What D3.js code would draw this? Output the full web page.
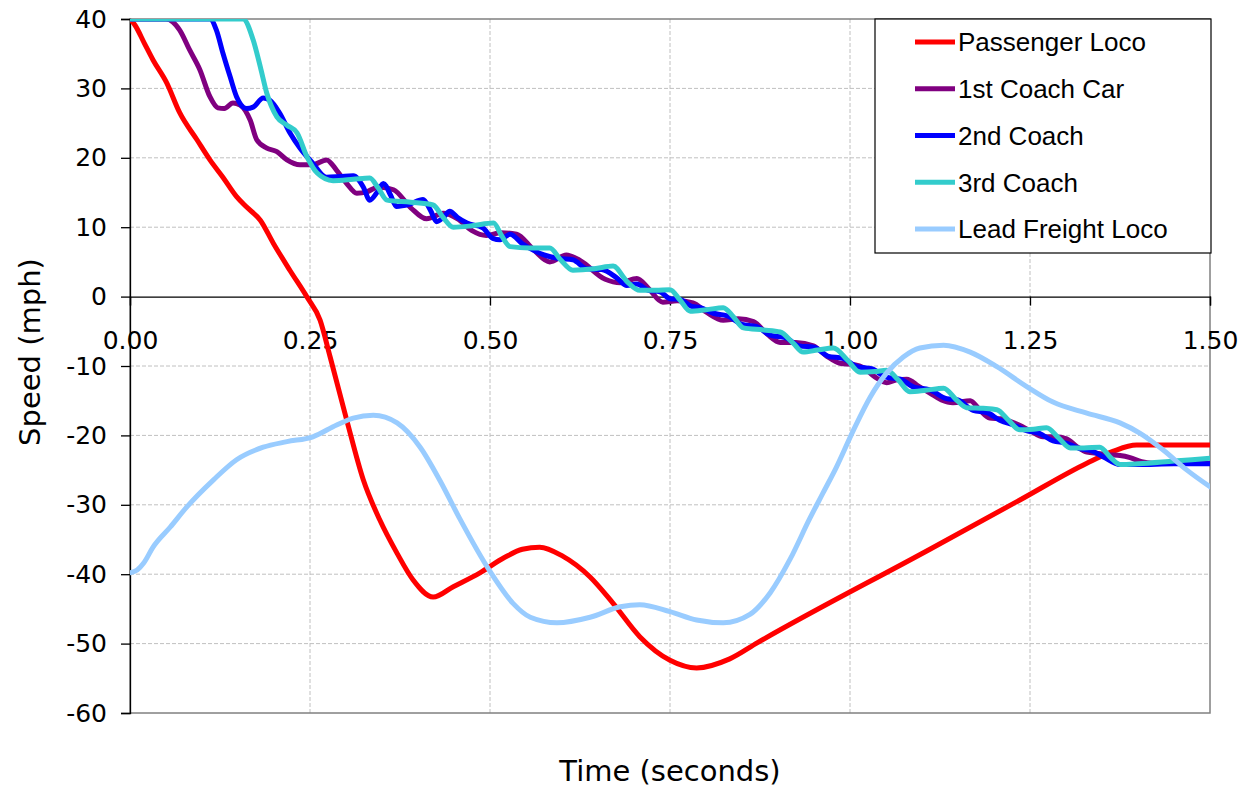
<!DOCTYPE html>
<html>
<head>
<meta charset="utf-8">
<script src="https://cdn.jsdelivr.net/npm/d3@7"></script>
<style>
  body { margin: 0; background: #fff; }
  text { fill: #000; }
</style>
</head>
<body>
<svg width="1249" height="790"></svg>
<script>
// [time (s), speed (mph)]
const passengerLoco = [[0,40],[0.007,39.1],[0.02,36.5],[0.032,34.1],[0.051,30.8],[0.069,26.5],[0.093,22.6],[0.111,19.7],
  [0.129,17.2],[0.148,14.4],[0.162,12.9],[0.181,11.0],[0.199,7.7],[0.222,3.8],[0.246,-0.1],[0.264,-3.4],[0.278,-8.7],
  [0.301,-17.8],[0.324,-26.4],[0.347,-32.2],[0.371,-37.0],[0.393,-40.8],[0.421,-43.3],[0.449,-41.8],[0.486,-39.8],
  [0.52,-37.6],[0.545,-36.4],[0.569,-36.1],[0.601,-37.4],[0.639,-40.4],[0.671,-44.2],[0.708,-49.0],[0.75,-52.4],
  [0.787,-53.5],[0.833,-52.2],[0.871,-49.9],[1.111,-36.4],[1.236,-29.3],[1.329,-24.0],[1.365,-22.3],[1.398,-21.4],[1.5,-21.4]];

const firstCoach = [[0,40],[0.05,40],[0.069,38.4],[0.083,35.5],[0.097,32.7],[0.111,28.8],[0.122,27.2],[0.131,27.1],
  [0.143,27.9],[0.153,27.6],[0.167,25.4],[0.176,22.6],[0.19,21.4],[0.204,20.9],[0.218,19.7],[0.236,19.0],[0.254,19.0],
  [0.273,19.7],[0.287,18.2],[0.301,16.3],[0.315,14.9],[0.329,15.1],[0.345,15.8],[0.366,15.4],[0.39,12.8],[0.412,11.2],
  [0.435,12.0],[0.455,11.2],[0.475,9.5],[0.495,8.8],[0.515,9.2],[0.537,9.0],[0.56,6.8],[0.583,5.0],[0.606,6.0],
  [0.625,5.2],[0.66,2.5],[0.681,2.0],[0.704,2.6],[0.72,1.2],[0.74,-0.8],[0.76,-0.6],[0.782,-0.9],[0.80,-2.2],
  [0.824,-3.4],[0.845,-3.2],[0.866,-3.6],[0.885,-5.4],[0.903,-6.6],[0.925,-6.6],[0.949,-7.1],[0.968,-8.6],[0.986,-9.6],
  [1.005,-9.8],[1.018,-10.2],[1.035,-11.6],[1.051,-12.4],[1.065,-12.0],[1.079,-11.9],[1.095,-12.9],[1.111,-13.9],
  [1.127,-14.9],[1.143,-15.3],[1.167,-15.0],[1.18,-16.3],[1.194,-17.5],[1.21,-17.6],[1.23,-18.3],[1.25,-19.3],
  [1.268,-20.2],[1.285,-20.2],[1.301,-20.5],[1.315,-21.6],[1.329,-22.4],[1.345,-22.6],[1.36,-22.8],[1.375,-22.9],
  [1.389,-23.2],[1.405,-23.8],[1.42,-24.0],[1.5,-24.0]];

const secondCoach = [[0,40],[0.111,40],[0.12,38.4],[0.129,35.1],[0.139,31.7],[0.148,28.8],[0.162,27.1],[0.171,27.3],
  [0.185,28.6],[0.194,28.3],[0.208,26.4],[0.222,23.6],[0.236,21.4],[0.254,19.2],[0.273,17.2],[0.292,17.3],[0.31,17.4],
  [0.324,15.8],[0.333,13.9],[0.343,15.0],[0.352,16.3],[0.362,14.6],[0.37,13.0],[0.388,13.3],[0.407,14.0],[0.417,12.5],
  [0.426,10.8],[0.436,11.5],[0.444,12.3],[0.455,11.4],[0.468,10.6],[0.49,9.9],[0.504,8.4],[0.514,8.2],[0.528,9.0],
  [0.545,7.6],[0.56,6.7],[0.575,6.0],[0.595,5.5],[0.615,5.3],[0.635,4.0],[0.655,3.9],[0.676,2.7],[0.69,1.6],[0.704,1.8],
  [0.72,0.9],[0.736,0.7],[0.75,-0.3],[0.764,-0.4],[0.78,-1.4],[0.792,-1.6],[0.81,-2.4],[0.83,-2.8],[0.85,-4.0],
  [0.87,-4.3],[0.89,-5.6],[0.91,-5.9],[0.93,-7.1],[0.95,-7.3],[0.97,-8.6],[0.99,-8.9],[1.01,-10.1],[1.03,-10.4],
  [1.05,-11.6],[1.07,-11.9],[1.09,-13.1],[1.11,-13.4],[1.134,-14.7],[1.15,-14.9],[1.171,-16.4],[1.19,-16.7],
  [1.208,-17.8],[1.227,-18.5],[1.245,-19.3],[1.263,-19.7],[1.282,-20.8],[1.30,-21.1],[1.319,-21.9],[1.335,-22.2],
  [1.352,-23.1],[1.375,-24.2],[1.40,-24.2],[1.45,-24.1],[1.5,-24.1]];

const thirdCoach = [[0,40],[0.157,40],[0.171,37.0],[0.181,33.1],[0.19,29.3],[0.204,25.9],[0.218,24.7],[0.232,23.6],
  [0.246,20.1],[0.26,17.8],[0.282,16.7],[0.31,16.9],[0.333,17.1],[0.345,15.6],[0.357,13.9],[0.39,13.6],[0.421,13.2],
  [0.435,11.4],[0.449,10.0],[0.475,10.2],[0.505,10.6],[0.516,8.8],[0.528,7.2],[0.555,7.0],[0.583,7.0],[0.598,5.3],
  [0.615,3.8],[0.645,4.0],[0.671,4.4],[0.69,2.2],[0.708,0.9],[0.73,0.9],[0.75,1.0],[0.764,-0.5],[0.778,-2.1],
  [0.80,-1.9],[0.824,-1.6],[0.838,-2.9],[0.852,-4.5],[0.88,-4.8],[0.903,-5.1],[0.921,-6.7],[0.935,-8.0],[0.955,-7.7],
  [0.977,-7.4],[0.996,-9.1],[1.014,-10.9],[1.035,-10.8],[1.051,-10.6],[1.067,-12.0],[1.083,-13.7],[1.105,-13.5],
  [1.13,-13.2],[1.148,-14.9],[1.162,-16.0],[1.185,-16.1],[1.204,-16.3],[1.22,-17.8],[1.236,-19.2],[1.255,-19.1],
  [1.273,-18.9],[1.29,-20.4],[1.306,-21.8],[1.325,-21.8],[1.347,-21.7],[1.362,-23.2],[1.375,-24.2],[1.40,-24.1],
  [1.45,-23.7],[1.5,-23.3]];

const leadFreight = [[0,-39.8],[0.01,-39.4],[0.019,-38.4],[0.032,-36.1],[0.056,-33.2],[0.079,-30.3],[0.116,-26.4],
  [0.148,-23.5],[0.185,-21.7],[0.218,-20.9],[0.254,-20.2],[0.287,-18.5],[0.31,-17.5],[0.338,-17.1],[0.371,-18.2],
  [0.403,-21.7],[0.431,-26.6],[0.458,-32.0],[0.5,-39.6],[0.532,-44.2],[0.556,-46.2],[0.593,-47.0],[0.639,-46.2],
  [0.681,-44.7],[0.708,-44.4],[0.75,-45.4],[0.787,-46.6],[0.824,-47.0],[0.861,-45.8],[0.889,-42.7],[0.917,-37.8],
  [0.944,-32.0],[0.962,-28.4],[0.981,-24.6],[1.005,-19.2],[1.028,-14.5],[1.051,-11.0],[1.074,-8.7],[1.097,-7.4],
  [1.13,-7.0],[1.167,-8.0],[1.204,-10.1],[1.246,-13.0],[1.282,-15.2],[1.329,-16.8],[1.375,-18.2],[1.403,-19.7],
  [1.435,-22.1],[1.468,-25.0],[1.5,-27.4]];

const seriesNames = ["Passenger Loco", "1st Coach Car", "2nd Coach", "3rd Coach", "Lead Freight Loco"];
const seriesColors = ["#FF0000", "#800080", "#0000FF", "#33CCCC", "#99CCFF"];
const xTicks = [0, 0.25, 0.5, 0.75, 1.0, 1.25, 1.5];
const yTicks = [40, 30, 20, 10, 0, -10, -20, -30, -40, -50, -60];

const seriesData = [passengerLoco, firstCoach, secondCoach, thirdCoach, leadFreight];

const svg = d3.select('svg');
const margin = {left: 130, right: 39, top: 19, bottom: 77};
const width = +svg.attr('width') - margin.left - margin.right;
const height = +svg.attr('height') - margin.top - margin.bottom;

const tickFont = "'DejaVu Sans', Tahoma, sans-serif";

const xScale = d3.scaleLinear().domain([0, 1.5]).range([0, width]);
const yScale = d3.scaleLinear().domain([-60, 40]).range([height, 0]);

const g = svg.append('g').attr('transform', `translate(${margin.left},${margin.top})`);

// gridlines (dashed)
g.append('g').selectAll('line')
  .data(yTicks.filter(d => d !== 40 && d !== -60 && d !== 0))
  .enter().append('line')
  .attr('x1', 0).attr('x2', width)
  .attr('y1', d => yScale(d)).attr('y2', d => yScale(d))
  .attr('stroke', '#c0c0c0').attr('stroke-dasharray', '4,2').attr('stroke-width', 1);

g.append('g').selectAll('line')
  .data(xTicks.filter(d => d > 0 && d < 1.5))
  .enter().append('line')
  .attr('x1', d => xScale(d)).attr('x2', d => xScale(d))
  .attr('y1', 0).attr('y2', height)
  .attr('stroke', '#c0c0c0').attr('stroke-dasharray', '4,2').attr('stroke-width', 1);

// plot border
g.append('rect')
  .attr('x', 0).attr('y', 0).attr('width', width).attr('height', height)
  .attr('fill', 'none').attr('stroke', '#808080').attr('stroke-width', 1.5);

// x axis sits at zero
const xAxis = g.append('g')
  .attr('transform', `translate(0,${yScale(0)})`)
  .call(d3.axisBottom(xScale).tickValues(xTicks).tickSize(9).tickFormat(d3.format('.2f')));
xAxis.select('.domain').attr('stroke', '#000').attr('stroke-width', 1.3);
xAxis.selectAll('.tick line').attr('stroke', '#000').attr('stroke-width', 1.3);
xAxis.selectAll('.tick text')
  .attr('y', 35)
  .style('font-family', tickFont).style('font-size', '25px');

// y axis (plain hyphen for negatives)
const yAxis = g.append('g')
  .call(d3.axisLeft(yScale).tickValues(yTicks).tickSize(9).tickPadding(14).tickFormat(d => String(d)));
yAxis.select('.domain').attr('stroke', '#000').attr('stroke-width', 1.3);
yAxis.selectAll('.tick line').attr('stroke', '#000').attr('stroke-width', 1.3);
yAxis.selectAll('.tick text')
  .style('font-family', tickFont).style('font-size', '25px');

// clip the series to the plot area
svg.append('defs').append('clipPath').attr('id', 'plotclip')
  .append('rect').attr('width', width).attr('height', height);

const line = d3.line()
  .x(d => xScale(d[0]))
  .y(d => yScale(d[1]))
  .curve(d3.curveMonotoneX);

g.append('g').attr('clip-path', 'url(#plotclip)')
  .selectAll('path')
  .data(seriesData)
  .enter().append('path')
  .attr('d', line)
  .attr('fill', 'none')
  .attr('stroke', (d, i) => seriesColors[i])
  .attr('stroke-width', 5)
  .attr('stroke-linejoin', 'round')
  .attr('stroke-linecap', 'round');

// axis titles
svg.append('text')
  .attr('x', margin.left + width / 2).attr('y', 781)
  .attr('text-anchor', 'middle')
  .style('font-family', tickFont).style('font-size', '29px')
  .text('Time (seconds)');

svg.append('text')
  .attr('transform', 'translate(40,352) rotate(-90)')
  .attr('text-anchor', 'middle')
  .style('font-family', tickFont).style('font-size', '29px')
  .text('Speed (mph)');

// legend
const legend = svg.append('g').attr('transform', 'translate(875,19)');
legend.append('rect')
  .attr('width', 336).attr('height', 234)
  .attr('fill', '#fff').attr('stroke', '#000').attr('stroke-width', 1.2);

const rows = legend.selectAll('g.row')
  .data(seriesNames)
  .enter().append('g')
  .attr('class', 'row')
  .attr('transform', (d, i) => `translate(0,${23 + i * 46.75})`);

rows.append('line')
  .attr('x1', 40).attr('x2', 80)
  .attr('stroke', (d, i) => seriesColors[i])
  .attr('stroke-width', 5);

rows.append('text')
  .attr('x', 83).attr('dy', '0.36em')
  .style('font-family', "'Liberation Sans', Arial, sans-serif").style('font-size', '26px')
  .text(d => d);
</script>
</body>
</html>
